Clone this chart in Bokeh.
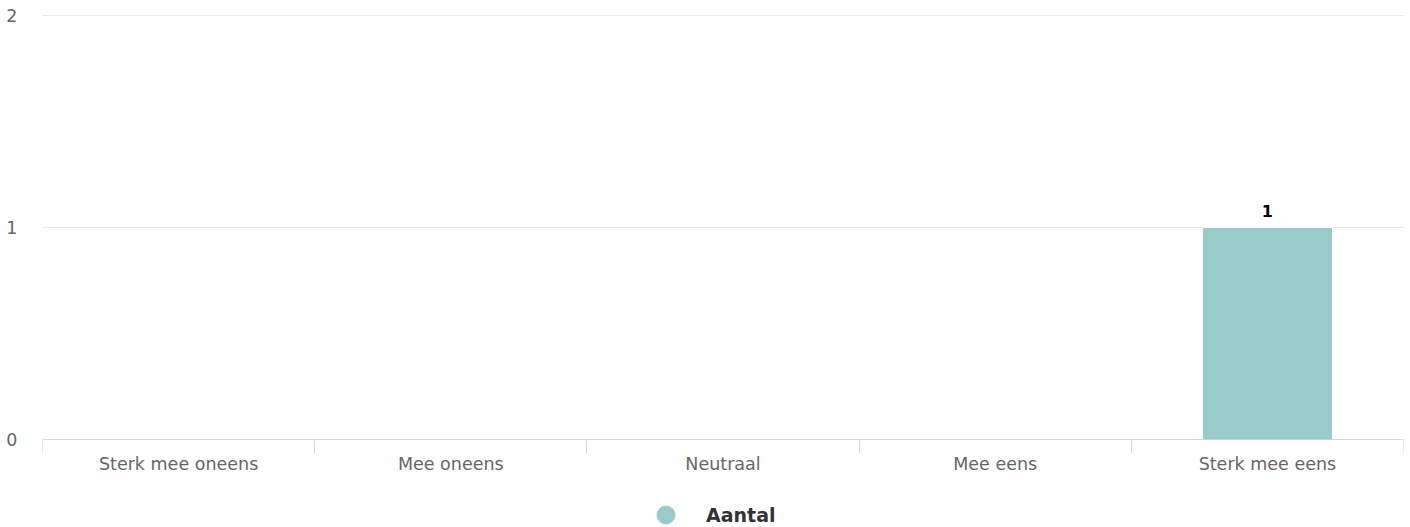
from bokeh.plotting import figure
from bokeh.models import Range1d, FixedTicker, Legend, LegendItem, ColumnDataSource
from bokeh.embed import file_html
from bokeh.resources import INLINE
from bokeh.core.properties import value

categories = ["Sterk mee oneens", "Mee oneens", "Neutraal", "Mee eens", "Sterk mee eens"]
counts = [0, 0, 0, 0, 1]
y_ticks = [0, 1, 2]
series_name = "Aantal"

BAR = "#99cbcb"
FONT = "DejaVu Sans"

W, H = 1405, 525
TOP, BOTTOM_AXIS = 15, 439  # pixel rows of y=2 and y=0
FRAME_TOP = 12
px_per_unit = (BOTTOM_AXIS - TOP) / (y_ticks[-1] - y_ticks[0])
y_start = y_ticks[0] - (H - BOTTOM_AXIS) / px_per_unit
y_end = y_ticks[-1] + (TOP - FRAME_TOP) / px_per_unit

xpos = [i + 0.5 for i in range(len(categories))]
src = ColumnDataSource(dict(x=xpos, top=counts,
                            label=[str(c) if c else "" for c in counts]))

p = figure(width=W, height=H, output_backend="svg", toolbar_location=None,
           x_range=Range1d(0, len(categories)), y_range=Range1d(y_start, y_end),
           min_border_left=42, min_border_right=2, min_border_top=FRAME_TOP, min_border_bottom=0)
p.outline_line_color = None
p.background_fill_color = "white"
p.border_fill_color = "white"

p.vbar(x="x", top="top", bottom=0, width=0.478, source=src, fill_color=BAR,
       line_color="white", line_width=1)
p.text(x="x", y="top", text="label", source=src, y_offset=-17, text_align="center",
       text_baseline="middle", text_font=value(FONT), text_font_style="bold",
       text_font_size="16px", text_color="black")

# grid
p.xgrid.visible = False
p.ygrid.grid_line_color = "#e6e6e6"
p.ygrid.ticker = FixedTicker(ticks=y_ticks)

# y axis
ya = p.yaxis[0]
ya.ticker = FixedTicker(ticks=y_ticks)
ya.axis_line_color = None
ya.major_tick_line_color = None
ya.minor_tick_line_color = None
ya.major_tick_out = 0
ya.major_tick_in = 0
ya.major_label_standoff = 25
ya.major_label_text_font = FONT
ya.major_label_text_font_size = "17.5px"
ya.major_label_text_color = "#666666"

# x axis, drawn at y = 0
xa = p.xaxis[0]
xa.fixed_location = 0
xa.ticker = FixedTicker(ticks=xpos, minor_ticks=list(range(len(categories) + 1)))
xa.major_label_overrides = {x: c for x, c in zip(xpos, categories)}
xa.axis_line_color = "#ccd6eb"
xa.major_tick_line_color = None
xa.major_tick_out = 0
xa.major_tick_in = 0
xa.minor_tick_line_color = "#ccd6eb"
xa.minor_tick_out = 14
xa.minor_tick_in = 0
xa.major_label_standoff = 0
xa.major_label_text_font = FONT
xa.major_label_text_font_size = "17.5px"
xa.major_label_text_color = "#666666"

# legend marker proxy (one undrawable row, only used by the legend)
legend_src = ColumnDataSource(dict(x=[float("nan")], y=[float("nan")]))
r = p.scatter(x="x", y="y", source=legend_src, size=18, marker="circle",
              fill_color=BAR, line_color=BAR)
legend = Legend(items=[LegendItem(label=series_name, renderers=[r])],
                location=(601, -12), glyph_width=45, glyph_height=45, label_standoff=18,
                padding=0, margin=0, border_line_color=None, background_fill_alpha=0,
                label_text_font=FONT, label_text_font_style="bold",
                label_text_font_size="19px", label_text_color="#333333")
p.add_layout(legend, "center")

open("out.html", "w").write(file_html(p, INLINE))
